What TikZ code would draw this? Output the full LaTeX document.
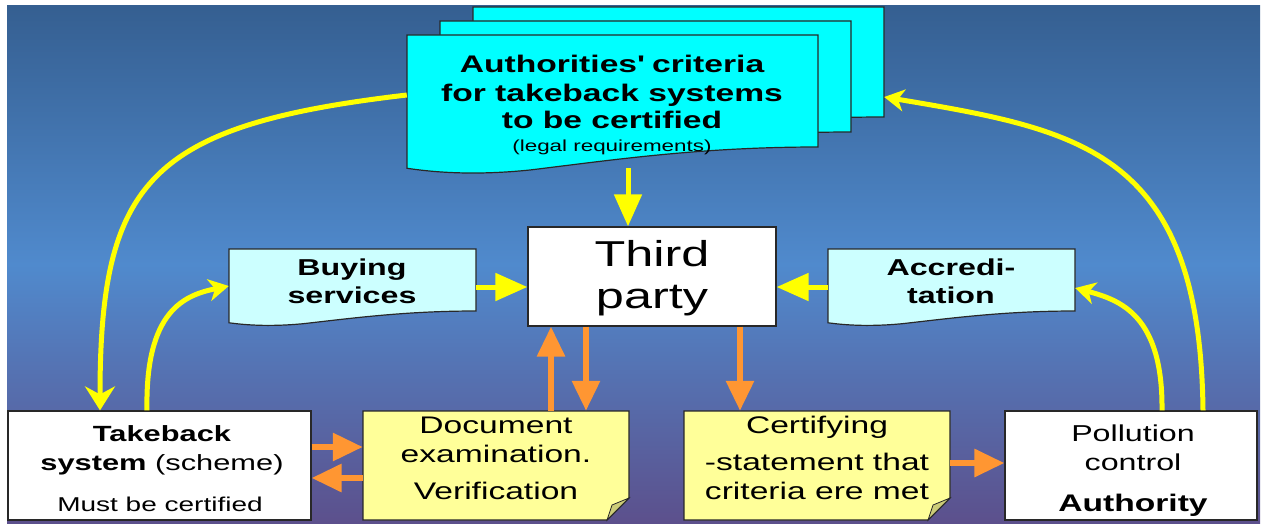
\documentclass[tikz,border=0pt]{standalone}
\usepackage{fontspec}
\setmainfont{Liberation Sans}[FakeStretch=1.4]
\usetikzlibrary{arrows.meta}
\definecolor{bgtop}{RGB}{53,95,145}
\definecolor{bgmid}{RGB}{80,138,205}
\definecolor{bgbot}{RGB}{92,80,140}
\definecolor{docc}{RGB}{0,255,255}
\definecolor{lcyan}{RGB}{204,255,255}
\definecolor{notec}{RGB}{255,255,153}
\definecolor{foldc}{RGB}{204,204,120}
\definecolor{orng}{RGB}{255,150,50}
\definecolor{yell}{RGB}{255,255,0}
\definecolor{edgec}{RGB}{40,40,40}
\newcommand\fs[1]{\fontsize{#1}{#1}\selectfont}
% x1 y1 x2 yr style
\newcommand\wavedoc[5]{%
  \filldraw[#5] (#1,#2) -- (#3,#2) -- (#3,#4)
  .. controls ({#3-0.287*(#3-#1)},#4) and ({#1+0.5*(#3-#1)},{#4+0.116*(#4-#2)}) ..
  ({#1+0.3*(#3-#1)},{#4+0.205*(#4-#2)})
  .. controls ({#1+0.154*(#3-#1)},{#4+0.26*(#4-#2)}) and ({#1+0.056*(#3-#1)},{#4+0.22*(#4-#2)}) ..
  (#1,{#4+0.19*(#4-#2)}) -- cycle;}
% x1 y1 x2 y2
\newcommand\notebox[4]{%
  \filldraw[fill=notec, draw=edgec, line width=1.2pt] (#1,#2) -- (#3,#2) -- (#3,{#4-22}) -- ({#3-22},#4) -- (#1,#4) -- cycle;
  \filldraw[fill=foldc, draw=edgec, line width=0.8pt] ({#3-22},#4) .. controls ({#3-20},{#4-8}) .. ({#3-17},{#4-15}) -- (#3,{#4-22}) -- cycle;}
\tikzset{
  wbox/.style={draw=edgec, fill=white, line width=1.2pt, inner sep=0},
  ghost/.style={inner sep=0, draw=none},
  t/.style={anchor=base, inner sep=0, text=black},
  yarr/.style={draw=yell, line width=5pt, -{Triangle[length=32pt,width=27pt]}},
  ycurve/.style={draw=yell, line width=5pt, -{Stealth[length=24pt,width=30pt,inset=8pt]}},
  ysmall/.style={draw=yell, line width=5pt, -{Stealth[length=20pt,width=22pt,inset=6pt]}},
  oarr/.style={draw=orng, line width=6pt, -{Triangle[length=30pt,width=27pt]}},
}
\begin{document}
\begin{tikzpicture}[x=1pt,y=-1pt]
\useasboundingbox (0,0) rectangle (1261,527);
\fill[top color=bgtop, bottom color=bgbot, middle color=bgmid] (7,6) rectangle (1260,523);

% criteria document stack
\wavedoc{473}{7}{884}{117}{fill=docc, draw=edgec, line width=1.2pt}
\wavedoc{440}{21}{851}{132}{fill=docc, draw=edgec, line width=1.2pt}
\wavedoc{407}{35}{818}{147}{fill=docc, draw=edgec, line width=1.2pt}
\node[ghost, minimum width=411, minimum height=133] (crit) at (612.5,101.5) {};
\node[ghost, minimum width=411, minimum height=110] (critb) at (678.5,62) {};
\node[t, font=\bfseries\fs{24}] (c1) at (612,73) {Authorities\textquotesingle{} criteria};
\node[t, font=\bfseries\fs{24}] (c2) at (612,101) {for takeback systems};
\node[t, font=\bfseries\fs{24}] (c3) at (612,128) {to be certified};
\node[t, font=\fs{16}] (c4) at (612,151) {(legal requirements)};

% third party
\node[wbox, minimum width=248, minimum height=99] (third) at (652,276.5) {};
\node[t, font=\fs{36}] (th1) at (652,266) {Third};
\node[t, font=\fs{36}] (th2) at (652,308) {party};

% buying services / accreditation
\wavedoc{229}{249}{476}{311}{fill=lcyan, draw=edgec, line width=1.2pt}
\node[ghost, minimum width=247, minimum height=73] (buy) at (352.5,285.5) {};
\node[t, font=\bfseries\fs{23}] (b1) at (352,275) {Buying};
\node[t, font=\bfseries\fs{23}] (b2) at (352,303) {services};
\wavedoc{828}{249}{1075}{311}{fill=lcyan, draw=edgec, line width=1.2pt}
\node[ghost, minimum width=247, minimum height=73] (acc) at (951.5,285.5) {};
\node[t, font=\bfseries\fs{23}] (a1) at (951,275) {Accredi-};
\node[t, font=\bfseries\fs{23}] (a2) at (951,303) {tation};

% bottom row
\node[wbox, minimum width=303, minimum height=109] (take) at (159.5,465.5) {};
\node[t, font=\bfseries\fs{22}] (tk1) at (162,441) {Takeback};
\node[t, font=\fs{22}] (tk2) at (162,470) {\textbf{system} (scheme)};
\node[t, font=\fs{20}] (tk3) at (160,511) {Must be certified};

\notebox{363}{411}{629}{520}
\node[ghost, minimum width=266, minimum height=109] (docx) at (496,465.5) {};
\node[t, font=\fs{24}] (d1) at (496,433) {Document};
\node[t, font=\fs{24}] (d2) at (496,462) {examination.};
\node[t, font=\fs{24}] (d3) at (496,499) {Verification};

\notebox{684}{411}{950}{520}
\node[ghost, minimum width=266, minimum height=109] (cert) at (817,465.5) {};
\node[t, font=\fs{24}] (e1) at (817,433) {Certifying};
\node[t, font=\fs{24}] (e2) at (817,470) {-statement that};
\node[t, font=\fs{24}] (e3) at (817,499) {criteria ere met};

\node[wbox, minimum width=252, minimum height=109] (poll) at (1131,465.5) {};
\node[t, font=\fs{23}] (p1) at (1133,441) {Pollution};
\node[t, font=\fs{23}] (p2) at (1133,470) {control};
\node[t, font=\bfseries\fs{24}] (p3) at (1133,511) {Authority};

% yellow arrows
\draw[yarr] (crit.south -| 628,0) -- (third.north -| 628,0);
\draw[yarr] (buy.east |- 0,287) -- (third.west |- 0,287);
\draw[yarr] (acc.west |- 0,287) -- (third.east |- 0,287);
\draw[ycurve] (crit.west |- 0,95) .. controls (150,125) and (100,180) .. (take.north -| 100,0);
\draw[ysmall] (take.north -| 147,0) .. controls (145,310) and (185,295) .. (buy.west |- 0,286);
\draw[ysmall] (poll.north -| 1162,0) .. controls (1163,315) and (1120,300) .. (acc.east |- 0,288);
\draw[ysmall] (poll.north -| 1203,0) .. controls (1200,150) and (1080,130) .. (critb.east |- 0,97);

% orange arrows
\draw[oarr] (take.east |- 0,447) -- (docx.west |- 0,447);
\draw[oarr] (docx.west |- 0,478) -- (take.east |- 0,478);
\draw[oarr] (docx.north -| 551,0) -- (third.south -| 551,0);
\draw[oarr] (third.south -| 586,0) -- (docx.north -| 586,0);
\draw[oarr] (third.south -| 740,0) -- (cert.north -| 740,0);
\draw[oarr] (cert.east |- 0,463) -- (poll.west |- 0,463);
\end{tikzpicture}
\end{document}
